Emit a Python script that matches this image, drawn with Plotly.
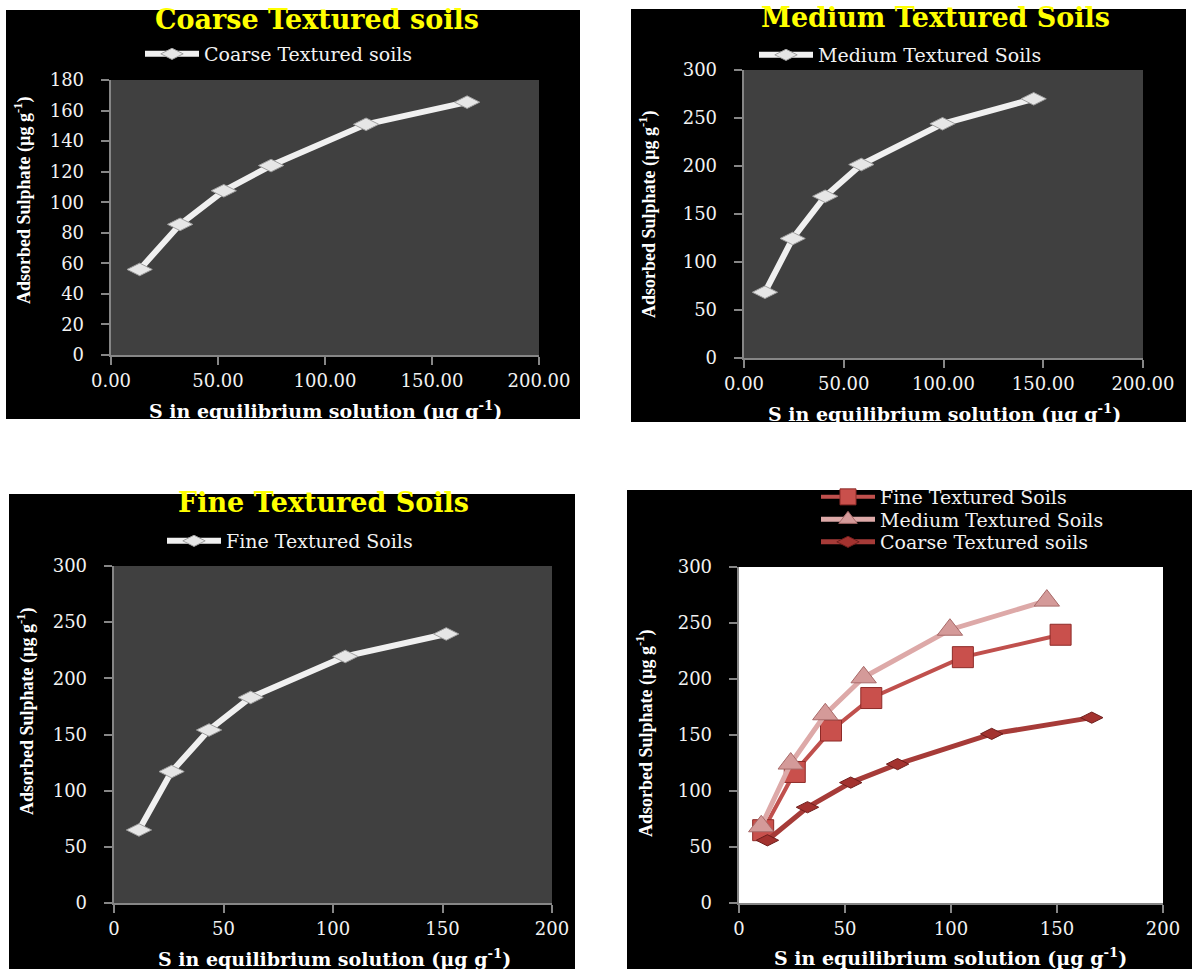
import plotly.graph_objects as go

W, H = 1192, 969

# ---- data ----
coarse_x = [13.4, 32.3, 52.7, 74.8, 119.2, 166.4]
coarse_y = [56, 85.5, 107.5, 124, 151, 165.5]
medium_x = [10.5, 24.4, 40.7, 58.8, 99.5, 145.2]
medium_y = [68.5, 124.5, 168.5, 201.5, 244, 270]
fine_x = [11.4, 26.3, 43.4, 62.4, 105.6, 151.7]
fine_y = [65, 117, 154, 183, 219.5, 239.5]

coarse_name = "Coarse Textured soils"
medium_name = "Medium Textured Soils"
fine_name = "Fine Textured Soils"
x_title = "S in equilibrium solution (µg g<sup>-1</sup>)"
y_title = "Adsorbed Sulphate (µg g<sup>-1</sup>)"


def px(x):
    return x / W


def py(y):
    return 1 - y / H


fig = go.Figure()

white_line = dict(color="#F0F0F0", width=6)
white_marker = dict(symbol="diamond-wide", size=18, color="#E6E6E6",
                    line=dict(color="#A0A0A0", width=1))

fig.add_trace(go.Scatter(x=coarse_x, y=coarse_y, name=coarse_name, mode="lines+markers",
                         line=white_line, marker=white_marker, xaxis="x", yaxis="y", legend="legend"))
fig.add_trace(go.Scatter(x=medium_x, y=medium_y, name=medium_name, mode="lines+markers",
                         line=white_line, marker=white_marker, xaxis="x2", yaxis="y2", legend="legend2"))
fig.add_trace(go.Scatter(x=fine_x, y=fine_y, name=fine_name, mode="lines+markers",
                         line=white_line, marker=white_marker, xaxis="x3", yaxis="y3", legend="legend3"))

# combined panel
fig.add_trace(go.Scatter(x=fine_x, y=fine_y, name=fine_name, mode="lines+markers",
                         line=dict(color="#C0504D", width=4),
                         marker=dict(symbol="square", size=21, color="#C9504C",
                                     line=dict(color="#8E2B28", width=1)),
                         xaxis="x4", yaxis="y4", legend="legend4"))
fig.add_trace(go.Scatter(x=medium_x, y=medium_y, name=medium_name, mode="lines+markers",
                         line=dict(color="#DDA9A8", width=5),
                         marker=dict(symbol="triangle-up", size=22, color="#D49A99",
                                     line=dict(color="#A86A69", width=1)),
                         xaxis="x4", yaxis="y4", legend="legend5"))
fig.add_trace(go.Scatter(x=coarse_x, y=coarse_y, name=coarse_name, mode="lines+markers",
                         line=dict(color="#A63B38", width=5),
                         marker=dict(symbol="diamond-wide", size=16, color="#A3322F",
                                     line=dict(color="#6E1E1C", width=1)),
                         xaxis="x4", yaxis="y4", legend="legend6"))

axis_col = "#868686"
tick_font = dict(family="DejaVu Serif", size=18, color="#F2F2F2")
common = dict(showgrid=False, zeroline=False, showline=True, linecolor=axis_col, linewidth=1.5,
              ticks="outside", ticklen=8, tickcolor=axis_col, tickwidth=1.5, tickfont=tick_font,
              automargin=False)

# plot-area pixel boxes: (left, right, top, bottom)
boxes = [(111, 539, 80, 355), (744, 1143, 70, 358), (114, 552, 566, 903), (739, 1163, 567, 903)]
yranges = [(0, 180, 20), (0, 300, 50), (0, 300, 50), (0, 300, 50)]
xfmt = [".2f", ".2f", "d", "d"]

for i, (b, yr, fmt) in enumerate(zip(boxes, yranges, xfmt)):
    sfx = "" if i == 0 else str(i + 1)
    l, r, t, bt = b
    fig.update_layout(**{
        "xaxis" + sfx: dict(domain=[px(l), px(r)], range=[0, 200], dtick=50, tickformat=fmt,
                            anchor="y" + sfx, ticklabelstandoff=1, **common),
        "yaxis" + sfx: dict(domain=[py(bt), py(t)], range=[yr[0], yr[1]], dtick=yr[2],
                            anchor="x" + sfx, ticklabelstandoff=10, ticksuffix="\u2009", **common),
    })

shapes = []
# black panel backgrounds
for (x0, x1, y0, y1) in [(6, 580, 10, 419), (631, 1186, 9, 422), (9, 575, 494, 969), (627, 1192, 490, 969)]:
    shapes.append(dict(type="rect", xref="paper", yref="paper", x0=px(x0), x1=px(x1), y0=py(y1), y1=py(y0),
                       fillcolor="#000000", line=dict(width=0), layer="below"))
# plot area fills
for (l, r, t, bt), col in zip(boxes, ["#404040", "#404040", "#404040", "#FFFFFF"]):
    shapes.append(dict(type="rect", xref="paper", yref="paper", x0=px(l), x1=px(r), y0=py(bt), y1=py(t),
                       fillcolor=col, line=dict(width=0), layer="below"))

annotations = []
title_font = dict(family="DejaVu Serif", size=27, color="#FFFF00")
for text, cx, cy in [(coarse_name, 317, 19), (medium_name, 935, 17), (fine_name, 323, 503)]:
    annotations.append(dict(text="<b>" + text + "</b>", x=px(cx), y=py(cy), xref="paper", yref="paper",
                            xanchor="center", yanchor="middle", showarrow=False, font=title_font))
xt_font = dict(family="DejaVu Serif", size=19, color="#FFFFFF")
for cx, cy in [(325, 410), (944, 413), (334, 958), (950, 957)]:
    annotations.append(dict(text="<b>" + x_title + "</b>", x=px(cx), y=py(cy), xref="paper", yref="paper",
                            xanchor="center", yanchor="middle", showarrow=False, font=xt_font))
yt_font = dict(family="Liberation Serif", size=18, color="#FFFFFF")
for cx, cy in [(23, 201), (648, 215), (26, 712), (645, 734)]:
    annotations.append(dict(text="<b>" + y_title + "</b>", x=px(cx), y=py(cy), xref="paper", yref="paper",
                            xanchor="center", yanchor="middle", textangle=-90, showarrow=False, font=yt_font))

leg_font = dict(family="DejaVu Serif", size=19, color="#F2F2F2")
leg_common = dict(bgcolor="rgba(0,0,0,0)", borderwidth=0, font=leg_font, xanchor="left", yanchor="middle",
                  itemwidth=54)

fig.update_layout(
    width=W, height=H, margin=dict(l=0, r=0, t=0, b=0, autoexpand=False),
    paper_bgcolor="#FFFFFF", plot_bgcolor="rgba(0,0,0,0)",
    shapes=shapes, annotations=annotations, showlegend=True,
    legend=dict(x=px(140), y=py(54), **leg_common),
    legend2=dict(x=px(754), y=py(55), **leg_common),
    legend3=dict(x=px(162), y=py(541), **leg_common),
    legend4=dict(x=px(816), y=py(497), **leg_common),
    legend5=dict(x=px(816), y=py(519.5), **leg_common),
    legend6=dict(x=px(816), y=py(542), **leg_common),
)

fig.write_html("out.html", config={"displayModeBar": False},
               post_script="document.body.style.margin='0';")
